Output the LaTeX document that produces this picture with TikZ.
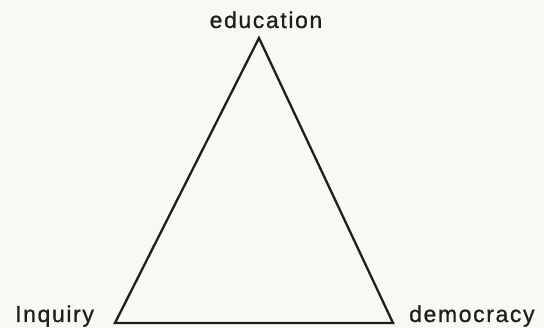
\documentclass[tikz,border=0pt]{standalone}
\usepackage{fontspec}
\setmainfont{Liberation Sans}[LetterSpace=7, FakeBold=0.8]
\definecolor{paper}{RGB}{249,248,242}
\definecolor{ink}{RGB}{30,30,30}
\begin{document}
\begin{tikzpicture}[x=1pt,y=1pt,
  lbl/.style={inner sep=0pt, text=ink, font=\fontsize{23}{27}\selectfont},
  edge/.style={draw=ink, line width=2.3pt, line join=miter}]
\fill[paper] (0,0) rectangle (544,328);
\useasboundingbox (0,0) rectangle (544,328);
\coordinate (top) at (259,290);
\coordinate (left) at (115,5);
\coordinate (right) at (393,5);
\node[lbl, anchor=base] (edu) at (266,300) {education};
\node[lbl, anchor=base west] (inq) at (15,6) {Inquiry};
\node[lbl, anchor=base west] (dem) at (409,6) {democracy};
\draw[edge] (top) -- (left) -- (right) -- cycle;
\end{tikzpicture}
\end{document}
